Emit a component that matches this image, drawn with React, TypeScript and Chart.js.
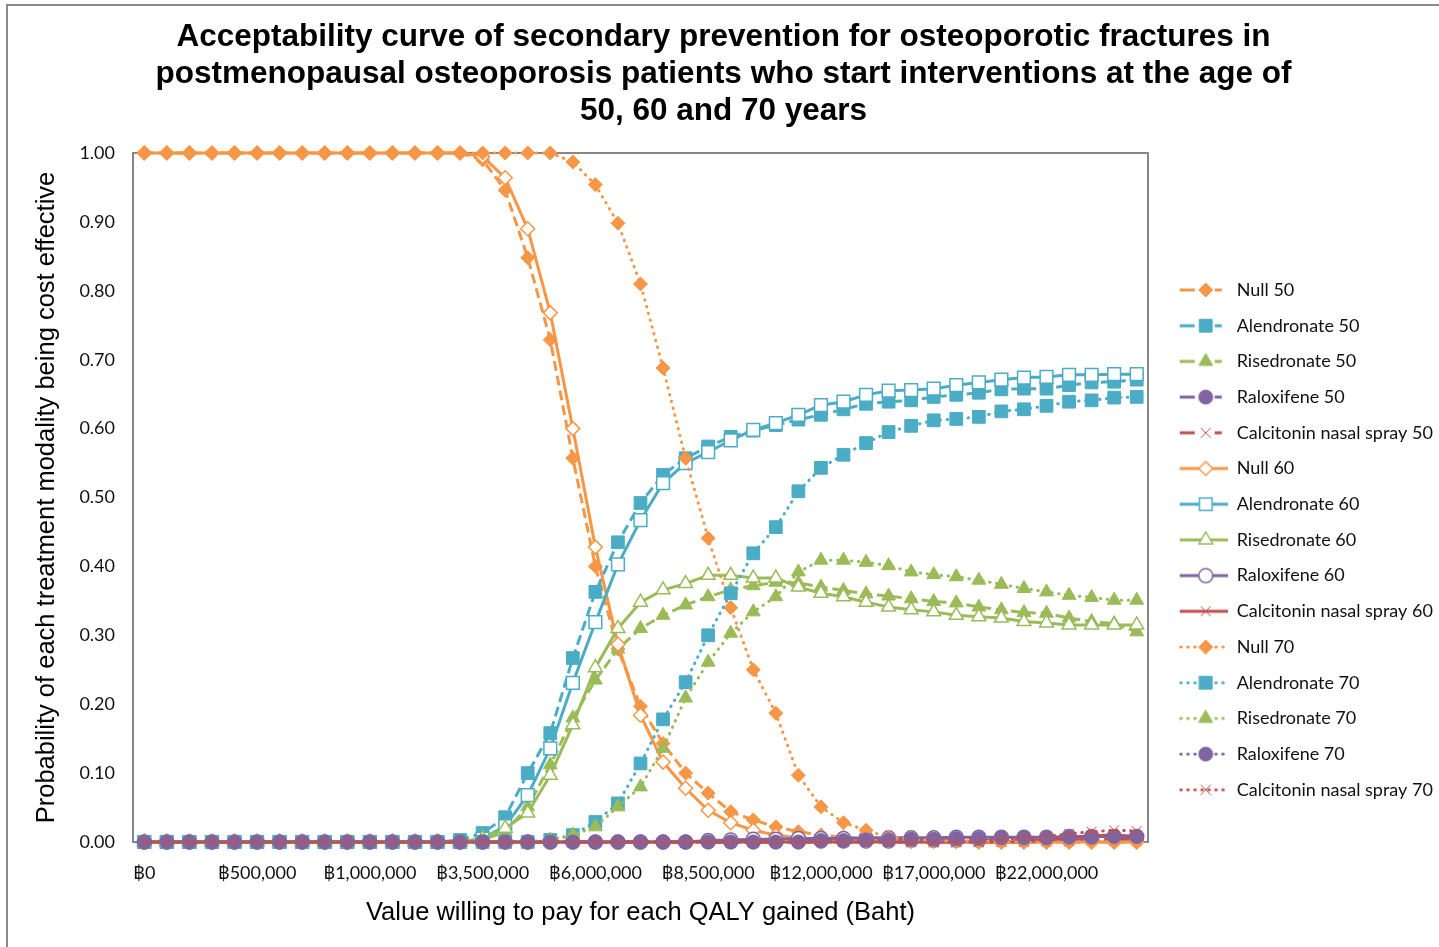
import React, { useEffect, useRef } from 'react';
import { Chart, registerables } from 'chart.js';

Chart.register(...registerables);

// Willingness-to-pay thresholds (Baht) - 45 categories
const WTP_BAHT = [
  0, 100000, 200000, 300000, 400000, 500000, 600000, 700000, 800000, 900000,
  1000000, 1500000, 2000000, 2500000, 3000000, 3500000, 4000000, 4500000, 5000000, 5500000,
  6000000, 6500000, 7000000, 7500000, 8000000, 8500000, 9000000, 9500000, 10000000, 11000000,
  12000000, 13000000, 14000000, 15000000, 16000000, 17000000, 18000000, 19000000, 20000000, 21000000,
  22000000, 23000000, 24000000, 25000000, 26000000,
];

const TITLE_LINES = [
  'Acceptability curve of secondary prevention for osteoporotic fractures in',
  'postmenopausal osteoporosis patients who start interventions at the age of',
  '50, 60 and 70 years',
];
const X_TITLE = 'Value willing to pay for each QALY gained (Baht)';
const Y_TITLE = 'Probability of each treatment modality being cost effective';

const NULL_50 = [
  1, 1, 1, 1, 1, 1, 1, 1, 1, 1, 1, 1, 1, 1, 1,
  0.99, 0.946, 0.848, 0.729, 0.557, 0.40, 0.28, 0.197, 0.143, 0.10,
  0.071, 0.044, 0.032, 0.022, 0.015, 0.01, 0.007, 0.005, 0.004, 0.003,
  0.002, 0.002, 0.001, 0.001, 0.001, 0, 0, 0, 0, 0,
];
const ALEN_50 = [
  0, 0, 0, 0, 0, 0, 0, 0, 0, 0, 0, 0, 0, 0,
  0.003, 0.013, 0.036, 0.10, 0.158, 0.267, 0.363, 0.435, 0.492, 0.533,
  0.557, 0.574, 0.588, 0.597, 0.605, 0.613, 0.62, 0.628, 0.636, 0.639,
  0.641, 0.646, 0.649, 0.652, 0.657, 0.658, 0.658, 0.663, 0.667, 0.668, 0.671,
];
const RISE_50 = [
  0, 0, 0, 0, 0, 0, 0, 0, 0, 0, 0, 0, 0, 0, 0,
  0.003, 0.015, 0.051, 0.112, 0.18, 0.235, 0.28, 0.31, 0.329, 0.344,
  0.356, 0.366, 0.372, 0.377, 0.376, 0.37, 0.365, 0.36, 0.357, 0.353,
  0.349, 0.347, 0.341, 0.337, 0.333, 0.332, 0.325, 0.32, 0.317, 0.305,
];
const RALOX_50 = [
  0, 0, 0, 0, 0, 0, 0, 0, 0, 0, 0, 0, 0, 0, 0,
  0, 0, 0, 0, 0, 0, 0, 0, 0, 0,
  0, 0, 0, 0, 0, 0.001, 0.001, 0.001, 0.001, 0.002,
  0.002, 0.002, 0.002, 0.003, 0.003, 0.003, 0.003, 0.004, 0.004, 0.004,
];
const CALC_50 = [
  0, 0, 0, 0, 0, 0, 0, 0, 0, 0, 0, 0, 0, 0, 0,
  0, 0, 0, 0, 0, 0, 0, 0, 0, 0,
  0, 0, 0, 0, 0, 0, 0, 0, 0, 0,
  0, 0, 0, 0, 0, 0, 0.001, 0.001, 0.002, 0.002,
];
const NULL_60 = [
  1, 1, 1, 1, 1, 1, 1, 1, 1, 1, 1, 1, 1, 1, 1,
  0.995, 0.964, 0.89, 0.768, 0.60, 0.428, 0.287, 0.184, 0.116, 0.078,
  0.046, 0.028, 0.017, 0.01, 0.006, 0.004, 0.003, 0.002, 0.002, 0.001,
  0.001, 0.001, 0, 0, 0, 0, 0, 0, 0, 0,
];
const ALEN_60 = [
  0, 0, 0, 0, 0, 0, 0, 0, 0, 0, 0, 0, 0, 0, 0,
  0.005, 0.023, 0.068, 0.136, 0.231, 0.319, 0.403, 0.467, 0.521, 0.55,
  0.566, 0.583, 0.598, 0.608, 0.62, 0.634, 0.639, 0.649, 0.655, 0.656,
  0.658, 0.663, 0.667, 0.671, 0.674, 0.675, 0.678, 0.678, 0.679, 0.679,
];
const RISE_60 = [
  0, 0, 0, 0, 0, 0, 0, 0, 0, 0, 0, 0, 0, 0, 0,
  0.005, 0.02, 0.042, 0.097, 0.17, 0.253, 0.31, 0.348, 0.366, 0.375,
  0.387, 0.387, 0.383, 0.383, 0.37, 0.361, 0.356, 0.348, 0.341, 0.337,
  0.334, 0.329, 0.327, 0.325, 0.32, 0.318, 0.315, 0.315, 0.315, 0.315,
];
const RALOX_60 = [
  0, 0, 0, 0, 0, 0, 0, 0, 0, 0, 0, 0, 0, 0, 0,
  0, 0, 0, 0, 0, 0, 0, 0, 0, 0,
  0.002, 0.003, 0.004, 0.004, 0.005, 0.005, 0.005, 0.006, 0.006, 0.006,
  0.006, 0.007, 0.007, 0.007, 0.007, 0.007, 0.008, 0.008, 0.008, 0.008,
];
const CALC_60 = [
  0, 0, 0, 0, 0, 0, 0, 0, 0, 0, 0, 0, 0, 0, 0,
  0, 0, 0, 0, 0, 0, 0, 0, 0, 0,
  0, 0, 0, 0, 0, 0, 0, 0, 0, 0,
  0, 0, 0, 0, 0, 0.003, 0.005, 0.009, 0.01, 0.008,
];
const NULL_70 = [
  1, 1, 1, 1, 1, 1, 1, 1, 1, 1, 1, 1, 1, 1, 1, 1, 1, 1, 1,
  0.987, 0.954, 0.898, 0.81, 0.688, 0.557, 0.441, 0.34, 0.25, 0.187,
  0.097, 0.051, 0.028, 0.017, 0.007, 0.004, 0.002, 0.001, 0.001, 0,
  0, 0, 0, 0, 0, 0,
];
const ALEN_70 = [
  0, 0, 0, 0, 0, 0, 0, 0, 0, 0, 0, 0, 0, 0, 0, 0, 0, 0,
  0.003, 0.01, 0.029, 0.056, 0.114, 0.178, 0.232, 0.30, 0.361, 0.419,
  0.457, 0.509, 0.543, 0.562, 0.579, 0.595, 0.604, 0.612, 0.614, 0.617,
  0.625, 0.628, 0.633, 0.639, 0.641, 0.645, 0.646,
];
const RISE_70 = [
  0, 0, 0, 0, 0, 0, 0, 0, 0, 0, 0, 0, 0, 0, 0, 0, 0, 0,
  0.003, 0.01, 0.022, 0.051, 0.08, 0.136, 0.209, 0.261, 0.303, 0.334,
  0.356, 0.392, 0.409, 0.409, 0.406, 0.401, 0.392, 0.388, 0.385, 0.38,
  0.374, 0.368, 0.363, 0.358, 0.355, 0.351, 0.351,
];
const RALOX_70 = [
  0, 0, 0, 0, 0, 0, 0, 0, 0, 0, 0, 0, 0, 0, 0,
  0, 0, 0, 0, 0, 0, 0, 0, 0, 0,
  0, 0, 0, 0, 0, 0.002, 0.002, 0.003, 0.003, 0.004,
  0.004, 0.005, 0.005, 0.006, 0.006, 0.006, 0.007, 0.007, 0.008, 0.008,
];
const CALC_70 = [
  0, 0, 0, 0, 0, 0, 0, 0, 0, 0, 0, 0, 0, 0, 0,
  0, 0, 0, 0, 0, 0, 0, 0, 0, 0,
  0, 0, 0, 0, 0, 0, 0, 0, 0, 0,
  0, 0, 0, 0.004, 0.006, 0.008, 0.012, 0.015, 0.017, 0.016,
];

const ORANGE = '#F79646';
const BLUE = '#4BACC6';
const GREEN = '#9BBB59';
const PURPLE = '#8064A2';
const RED = '#C0504D';

type Kind = 'dash' | 'solid' | 'dot';
interface Spec { name: string; values: number[]; color: string; marker: string; radius: number; kind: Kind; hollow: boolean; }

const SERIES: Spec[] = [
  { name: 'Null 50', values: NULL_50, color: ORANGE, marker: 'rectRot', radius: 7, kind: 'dash', hollow: false },
  { name: 'Alendronate 50', values: ALEN_50, color: BLUE, marker: 'rect', radius: 9, kind: 'dash', hollow: false },
  { name: 'Risedronate 50', values: RISE_50, color: GREEN, marker: 'triangle', radius: 8, kind: 'dash', hollow: false },
  { name: 'Raloxifene 50', values: RALOX_50, color: PURPLE, marker: 'circle', radius: 7, kind: 'dash', hollow: false },
  { name: 'Calcitonin nasal spray 50', values: CALC_50, color: RED, marker: 'crossRot', radius: 7, kind: 'dash', hollow: false },
  { name: 'Null 60', values: NULL_60, color: ORANGE, marker: 'rectRot', radius: 7, kind: 'solid', hollow: true },
  { name: 'Alendronate 60', values: ALEN_60, color: BLUE, marker: 'rect', radius: 9, kind: 'solid', hollow: true },
  { name: 'Risedronate 60', values: RISE_60, color: GREEN, marker: 'triangle', radius: 8, kind: 'solid', hollow: true },
  { name: 'Raloxifene 60', values: RALOX_60, color: PURPLE, marker: 'circle', radius: 7, kind: 'solid', hollow: true },
  { name: 'Calcitonin nasal spray 60', values: CALC_60, color: RED, marker: 'crossRot', radius: 7, kind: 'solid', hollow: true },
  { name: 'Null 70', values: NULL_70, color: ORANGE, marker: 'rectRot', radius: 7, kind: 'dot', hollow: false },
  { name: 'Alendronate 70', values: ALEN_70, color: BLUE, marker: 'rect', radius: 9, kind: 'dot', hollow: false },
  { name: 'Risedronate 70', values: RISE_70, color: GREEN, marker: 'triangle', radius: 8, kind: 'dot', hollow: false },
  { name: 'Raloxifene 70', values: RALOX_70, color: PURPLE, marker: 'circle', radius: 7, kind: 'dot', hollow: false },
  { name: 'Calcitonin nasal spray 70', values: CALC_70, color: RED, marker: 'crossRot', radius: 7, kind: 'dot', hollow: false },
];

const baht = (n: number) => '\u0E3F' + n.toLocaleString('en-US');
const X_LABELS = WTP_BAHT.map(baht);

const dashFor = (k: Kind) => (k === 'dash' ? [10, 5] : k === 'dot' ? [0.5, 6.5] : []);

const ICON_W = 62;
const LEGEND_W = 291;

function drawMarker(ctx: CanvasRenderingContext2D, s: Spec, x: number, y: number) {
  const r = s.radius;
  ctx.save();
  ctx.setLineDash([]);
  ctx.beginPath();
  if (s.marker === 'rectRot') {
    ctx.moveTo(x - r, y); ctx.lineTo(x, y - r); ctx.lineTo(x + r, y); ctx.lineTo(x, y + r); ctx.closePath();
  } else if (s.marker === 'rect') {
    const h = r * Math.SQRT1_2;
    ctx.rect(x - h, y - h, 2 * h, 2 * h);
  } else if (s.marker === 'triangle') {
    ctx.moveTo(x, y - r); ctx.lineTo(x + 0.866 * r, y + 0.5 * r); ctx.lineTo(x - 0.866 * r, y + 0.5 * r); ctx.closePath();
  } else if (s.marker === 'circle') {
    ctx.arc(x, y, r, 0, Math.PI * 2);
  } else {
    const d = r * Math.SQRT1_2;
    ctx.moveTo(x - d, y - d); ctx.lineTo(x + d, y + d); ctx.moveTo(x + d, y - d); ctx.lineTo(x - d, y + d);
  }
  if (s.marker !== 'crossRot') {
    ctx.fillStyle = s.hollow ? '#ffffff' : s.color;
    ctx.fill();
    ctx.lineWidth = s.hollow ? 1.5 : 1;
  } else {
    ctx.lineWidth = 1;
  }
  ctx.strokeStyle = s.color;
  ctx.stroke();
  ctx.restore();
}

function legendIcon(s: Spec): HTMLCanvasElement {
  const c = document.createElement('canvas');
  c.width = ICON_W; c.height = 20;
  const ctx = c.getContext('2d') as CanvasRenderingContext2D;
  ctx.strokeStyle = s.color;
  ctx.lineWidth = 3;
  const y = 10;
  const mx = 40;
  if (s.kind === 'solid') {
    ctx.beginPath(); ctx.moveTo(14, y); ctx.lineTo(ICON_W, y); ctx.stroke();
  } else if (s.kind === 'dash') {
    ctx.beginPath(); ctx.moveTo(14, y); ctx.lineTo(29, y); ctx.moveTo(49, y); ctx.lineTo(56, y); ctx.stroke();
  } else {
    ctx.lineCap = 'round';
    ctx.setLineDash([0.5, 6.5]);
    ctx.beginPath(); ctx.moveTo(15, y); ctx.lineTo(ICON_W, y); ctx.stroke();
  }
  drawMarker(ctx, s, mx, y);
  return c;
}

const plotFrame = {
  id: 'plotFrame',
  beforeDatasetsDraw(chart: any) {
    const { ctx, chartArea: a } = chart;
    ctx.save();
    ctx.strokeStyle = '#868686';
    ctx.lineWidth = 2;
    ctx.strokeRect(a.left, a.top, a.right - a.left, a.bottom - a.top);
    ctx.restore();
  },
};

// keeps the legend column at a fixed width so the plot area ends where the reference's does
const legendWidth = {
  id: 'legendWidth',
  beforeLayout(chart: any) {
    const lg = chart.legend;
    if (lg && !lg.__fixedWidth) {
      const orig = lg.fit.bind(lg);
      lg.fit = function () {
        orig();
        this.width = LEGEND_W;
      };
      lg.__fixedWidth = true;
    }
  },
};

export default function App() {
  const ref = useRef<HTMLCanvasElement | null>(null);

  useEffect(() => {
    if (!ref.current) return;
    const icons = SERIES.map(legendIcon);
    const n = SERIES.length;
    const chart = new Chart(ref.current, {
      type: 'line',
      data: {
        labels: X_LABELS,
        datasets: SERIES.map((s, i) => ({
          label: s.name,
          data: s.values,
          borderColor: s.color,
          backgroundColor: s.hollow ? '#ffffff' : s.color,
          borderWidth: 3,
          borderDash: dashFor(s.kind),
          borderCapStyle: s.kind === 'dot' ? 'round' : 'butt',
          pointStyle: s.marker as any,
          pointRadius: s.radius,
          pointHoverRadius: s.radius,
          pointBackgroundColor: s.hollow ? '#ffffff' : s.color,
          pointBorderColor: s.color,
          pointBorderWidth: s.marker === 'crossRot' ? 1 : s.hollow ? 1.5 : 1,
          tension: 0,
          fill: false,
          clip: false as any,
          order: n - i,
        })) as any,
      },
      options: {
        responsive: false,
        animation: false,
        devicePixelRatio: 1,
        layout: { padding: { left: 0, right: 0, top: 0, bottom: 16 } },
        plugins: {
          tooltip: { enabled: false },
          title: {
            display: true,
            text: TITLE_LINES,
            color: '#000',
            font: { family: "'Liberation Sans', Arial, sans-serif", size: 31.5, weight: 'bold', lineHeight: 1.1746 },
            padding: { top: 13, bottom: 23 },
          },
          legend: {
            display: true,
            position: 'right',
            align: 'center',
            title: {
              display: true,
              text: '',
              font: { size: 12, lineHeight: 1 },
              padding: { top: 65.4, bottom: 65.4 },
            },
            labels: {
              usePointStyle: true,
              pointStyleWidth: ICON_W,
              padding: 17.7,
              color: '#111',
              font: { family: 'Lato, "DejaVu Sans", sans-serif', size: 18 },
              generateLabels: () =>
                SERIES.map((s, i) => ({
                  text: s.name,
                  datasetIndex: i,
                  hidden: false,
                  pointStyle: icons[i] as any,
                  rotation: 0,
                  fillStyle: s.color,
                  strokeStyle: s.color,
                  lineWidth: 0,
                  fontColor: '#111',
                })) as any,
            },
          },
        },
        scales: {
          x: {
            type: 'category',
            offset: true,
            grid: { display: false, drawTicks: false },
            border: { display: false },
            ticks: {
              autoSkip: false,
              maxRotation: 0,
              minRotation: 0,
              padding: 20,
              color: '#111',
              font: { family: 'Lato, "DejaVu Sans", sans-serif', size: 18 },
              callback: (_v: any, i: number) => (i % 5 === 0 ? X_LABELS[i] : ''),
            },
            title: {
              display: true,
              text: X_TITLE,
              color: '#000',
              font: { family: "'Liberation Sans', Arial, sans-serif", size: 25.5, lineHeight: 1.2 },
              padding: { top: 0, bottom: 2.7 },
            },
            afterFit: (s: any) => { s.height = 89; },
          },
          y: {
            min: 0,
            max: 1,
            grid: { display: false, drawTicks: false },
            border: { display: false },
            ticks: {
              stepSize: 0.1,
              padding: 18,
              color: '#111',
              font: { family: 'Lato, "DejaVu Sans", sans-serif', size: 18 },
              callback: (v: any) => Number(v).toFixed(2),
            },
            title: {
              display: true,
              text: Y_TITLE,
              color: '#000',
              font: { family: "'Liberation Sans', Arial, sans-serif", size: 25.5, lineHeight: 1.2 },
              padding: { top: 23.7, bottom: 0 },
            },
            afterFit: (s: any) => { s.width = 125; },
          },
        },
      } as any,
      plugins: [plotFrame, legendWidth],
    });
    return () => chart.destroy();
  }, []);

  return (
    <div
      style={{
        position: 'absolute',
        left: 6,
        top: 4,
        width: 1433,
        height: 943,
        borderTop: '2px solid #8a8a8a',
        borderLeft: '2px solid #8a8a8a',
        background: '#fff',
        overflow: 'hidden',
      }}
    >
      <canvas ref={ref} width={1431} height={941} style={{ display: 'block', width: 1431, height: 941 }} />
    </div>
  );
}
